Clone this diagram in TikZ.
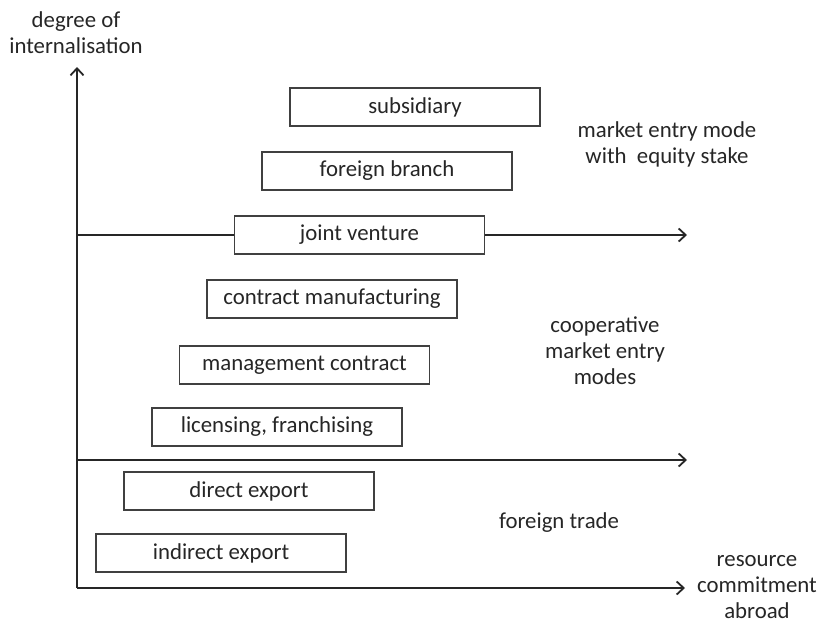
\documentclass[tikz,border=0pt]{standalone}
\usepackage{fontspec}
\setmainfont{Carlito}
\usetikzlibrary{arrows.meta}
\definecolor{txt}{HTML}{262626}
\definecolor{bord}{HTML}{404040}
\begin{document}
\begin{tikzpicture}[x=1pt,y=-1pt,
  modebox/.style={draw=bord, line width=1.4pt, fill=white, minimum width=250pt, minimum height=38pt, inner sep=0pt, font=\fontsize{22.8}{26}\selectfont, text=txt},
  lbl/.style={align=center, font=\fontsize{22.8}{26}\selectfont, text=txt},
  axis/.style={line width=1.8pt, draw=black!85, -{Straight Barb[length=7pt,width=13pt,line width=1.8pt]}}
]
\useasboundingbox (0,0) rectangle (820,625);
\coordinate (o) at (77,588);
\coordinate (ytop) at (77,67);
\coordinate (xend) at (685,588);
\coordinate (l1s) at (77,235);
\coordinate (l1e) at (687,235);
\coordinate (l2s) at (77,460);
\coordinate (l2e) at (687,460);
\draw[axis] (o) -- (ytop);
\draw[axis] (o) -- (xend);
\draw[axis] (l1s) -- (l1e);
\draw[axis] (l2s) -- (l2e);
\node[modebox] (sub) at (415,107) {subsidiary};
\node[modebox] (fb) at (387,171) {foreign branch};
\node[modebox] (jv) at (359.5,235) {joint venture};
\node[modebox] (cm) at (332,299) {contract manufacturing};
\node[modebox] (mc) at (304.5,365) {management contract};
\node[modebox] (lf) at (277,427) {licensing, franchising};
\node[modebox] (de) at (249,491) {direct export};
\node[modebox] (ie) at (221,553) {indirect export};
\node[lbl] (yl) at (76,33) {degree of\\internalisation};
\node[lbl] (eq) at (667,144) {market entry mode\\with\ \ equity stake};
\node[lbl] (co) at (605,351) {cooperative\\market entry\\modes};
\node[lbl] (ft) at (559,523) {foreign trade};
\node[lbl] (xl) at (757,587) {resource\\commitment\\abroad};
\end{tikzpicture}
\end{document}
